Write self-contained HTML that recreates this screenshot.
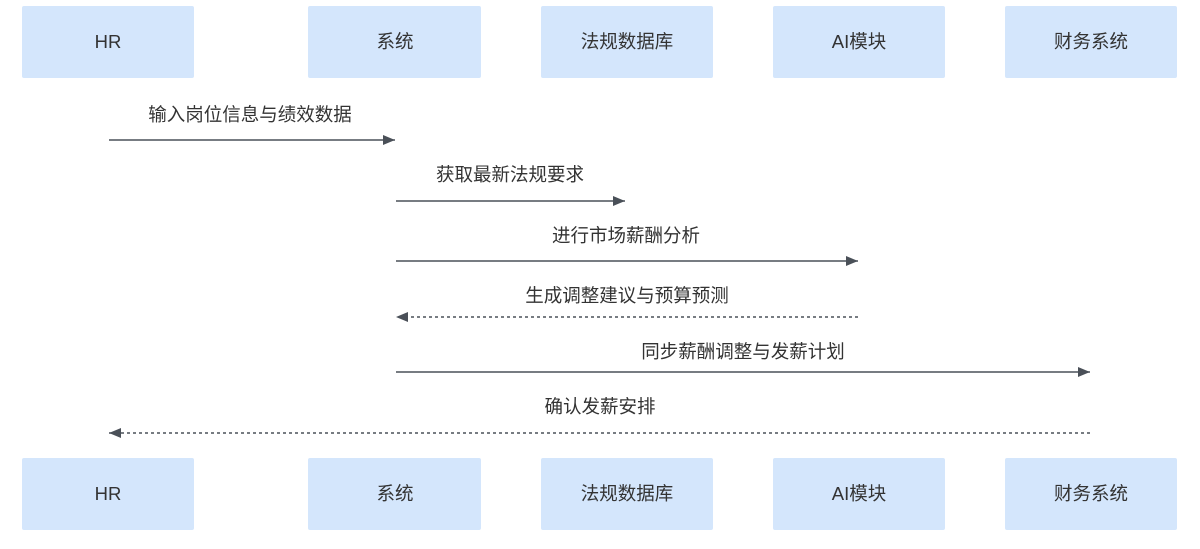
<!DOCTYPE html>
<html><head><meta charset="utf-8"><style>
html,body{margin:0;padding:0;background:#fff;}
text{font-family:"Liberation Sans","Noto Sans CJK SC",sans-serif;font-size:18.5px;fill:#333;}
</style></head><body>
<svg width="1200" height="544" xmlns="http://www.w3.org/2000/svg">
<defs><marker id="a" markerWidth="12" markerHeight="10" refX="12" refY="5" orient="auto" markerUnits="userSpaceOnUse"><path d="M0,0 L12,5 L0,10 z" fill="#4a5058"/></marker></defs>
<g fill="#d4e6fc">
<rect x="22" y="6" width="172" height="72" rx="2"/><rect x="308" y="6" width="173" height="72" rx="2"/><rect x="541" y="6" width="172" height="72" rx="2"/><rect x="773" y="6" width="172" height="72" rx="2"/><rect x="1005" y="6" width="172" height="72" rx="2"/>
<rect x="22" y="458" width="172" height="72" rx="2"/><rect x="308" y="458" width="173" height="72" rx="2"/><rect x="541" y="458" width="172" height="72" rx="2"/><rect x="773" y="458" width="172" height="72" rx="2"/><rect x="1005" y="458" width="172" height="72" rx="2"/>
</g>
<g text-anchor="middle">
<text x="108" y="48">HR</text><text x="395" y="48">系统</text><text x="627" y="48">法规数据库</text><text x="859" y="48">AI模块</text><text x="1091" y="48">财务系统</text>
<text x="108" y="500">HR</text><text x="395" y="500">系统</text><text x="627" y="500">法规数据库</text><text x="859" y="500">AI模块</text><text x="1091" y="500">财务系统</text>
<text x="250" y="121">输入岗位信息与绩效数据</text>
<text x="510" y="181">获取最新法规要求</text>
<text x="626" y="242">进行市场薪酬分析</text>
<text x="627" y="302">生成调整建议与预算预测</text>
<text x="743" y="358">同步薪酬调整与发薪计划</text>
<text x="600" y="413">确认发薪安排</text>
</g>
<g stroke="#4a5058" stroke-width="1.5" fill="none">
<line x1="109" y1="140" x2="395" y2="140" marker-end="url(#a)"/>
<line x1="396" y1="201" x2="625" y2="201" marker-end="url(#a)"/>
<line x1="396" y1="261" x2="858" y2="261" marker-end="url(#a)"/>
<line x1="858" y1="317" x2="396" y2="317" stroke-dasharray="3,3" marker-end="url(#a)"/>
<line x1="396" y1="372" x2="1090" y2="372" marker-end="url(#a)"/>
<line x1="1090" y1="433" x2="109" y2="433" stroke-dasharray="3,3" marker-end="url(#a)"/>
</g>
</svg>
</body></html>
